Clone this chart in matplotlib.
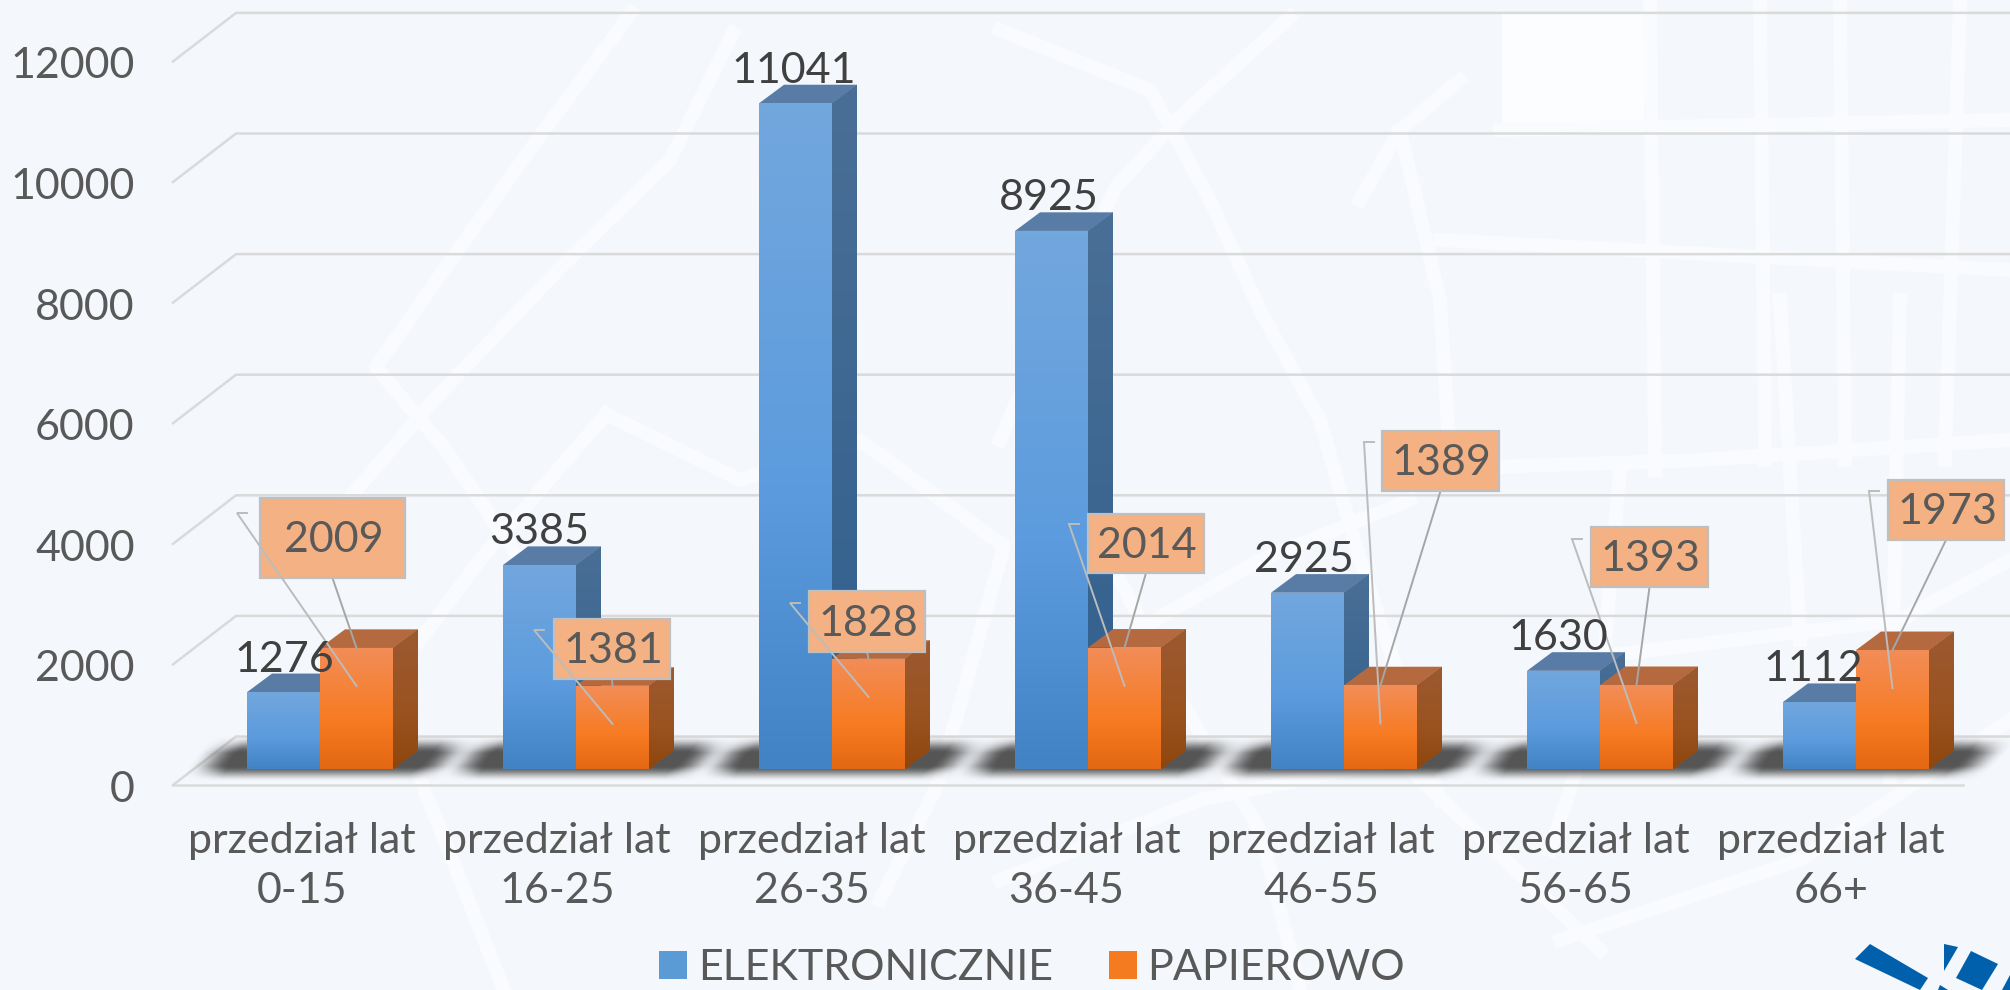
#grafico de barras con falso 3D: electronicznie vs papierowo
import numpy as np
import matplotlib
matplotlib.use('Agg')
import matplotlib.pyplot as plt
from matplotlib.colors import LinearSegmentedColormap
from matplotlib.patches import Patch, Polygon, Rectangle
from matplotlib.transforms import Affine2D, ScaledTranslation

plt.rcParams['font.family'] = ['Lato', 'DejaVu Sans']

#los datos
grupos = ['przedział lat\n0-15', 'przedział lat\n16-25', 'przedział lat\n26-35', 'przedział lat\n36-45',
          'przedział lat\n46-55', 'przedział lat\n56-65', 'przedział lat\n66+']
elektronicznie = [1276, 3385, 11041, 8925, 2925, 1630, 1112]
papierowo = [2009, 1381, 1828, 2014, 1389, 1393, 1973]
y_ticks = [0, 2000, 4000, 6000, 8000, 10000, 12000]

#cajas de las etiquetas naranjas, en pixeles (izq, arriba, ancho, alto)
cajas = [(260, 498, 145, 80), (554, 619, 116, 60), (809, 591, 116, 61), (1088, 514, 116, 59),
         (1382, 431, 117, 60), (1591, 527, 117, 60), (1888, 480, 116, 60)]
#inicio de la linea gris larga, en pixeles
ganchos = [(237, 513), (534, 630), (790, 603), (1069, 524), (1364, 442), (1572, 539), (1869, 491)]

#fondo tipo mapa, lineas blancas en pixeles
calles = [
    [(631, 13), (542, 133), (446, 267), (376, 367), (446, 450), (520, 560)],
    [(733, 33), (670, 160), (561, 267), (434, 400), (330, 520)],
    [(606, 414), (480, 560), (420, 640)],
    [(606, 414), (740, 480), (861, 441), (1004, 546), (938, 784), (880, 900)],
    [(422, 784), (504, 990)],
    [(1290, 17), (1187, 110), (1116, 187), (1060, 300), (1000, 440)],
    [(1000, 30), (1150, 90), (1210, 200), (1260, 310), (1320, 420), (1360, 560), (1440, 800)],
    [(1360, 200), (1400, 130), (1460, 80)],
    [(1400, 130), (1440, 300), (1450, 460)],
    [(1440, 240), (2010, 270)],
    [(1400, 470), (1700, 460), (2010, 440)],
    [(1120, 640), (1260, 560), (1410, 500)],
    [(1110, 560), (1180, 700), (1260, 830), (1300, 990)],
    [(1570, 660), (1900, 620), (2010, 560)],
    [(1550, 850), (1600, 700), (1620, 470)],
    [(1560, 940), (1800, 860), (1950, 760), (2010, 720)],
    [(1650, 0), (1655, 470)], [(1760, 0), (1765, 460)], [(1840, 0), (1845, 460)],
    [(1960, 0), (1945, 460)], [(1900, 300), (1890, 780)], [(1780, 300), (1800, 640)],
    [(1500, 130), (2010, 120)], [(1000, 880), (1200, 800), (1400, 760), (1600, 950)],
]
bloque_blanco = (1502, 14, 142, 120)
#logo abajo a la derecha
logo = [
    [(1870, 944), (1855, 959), (1920, 990), (1928, 978)],
    [(1944, 944), (1958, 947), (1944, 971)],
    [(1971, 951), (1998, 964), (1982, 990), (1956, 978)],
    [(1940, 985), (1948, 990), (1938, 990)],
    [(2010, 975), (2010, 990), (2002, 990)],
]

#colores
fondo = '#f4f7fc'
azul_frente = ['#72a7de', '#5b9bdd', '#4283c5']
azul_lado = ['#4a6f96', '#3a6590', '#2f5f8e']
azul_tapa = '#587ca6'
naranja_frente = ['#f28d58', '#f77b22', '#e36812']
naranja_lado = ['#9c5a30', '#9a5220', '#8f460d']
naranja_tapa = '#b5693f'

#escala: unos 120.6 pixeles son 2000 unidades
px_por_unidad = 0.0603
ancho = 0.285
dx = 25 / 256  #profundidad en x
dy = 18.6 / px_por_unidad  #profundidad en y
base = 15.9 / px_por_unidad  #las barras estan mas atras que el frente del piso
fondo_y = 48.5 / px_por_unidad  #pared de atras

fig = plt.figure(figsize=(20.1, 9.9), dpi=100, facecolor=fondo)
pix = Affine2D().scale(1, -1).translate(0, 990)

#fondo
x0, y0, w0, h0 = bloque_blanco
fig.add_artist(Rectangle((x0, y0), w0, h0, transform=pix, color='#fcfdff', lw=0, zorder=-3))
for c in calles:
    c = np.array(c)
    fig.add_artist(plt.Line2D(c[:, 0], c[:, 1], transform=pix, color='#f9fbfe', lw=10,
                              solid_joinstyle='round', zorder=-2))
for p in logo:
    fig.add_artist(Polygon(p, transform=pix, color='#0060ac', lw=0, zorder=-1))

ax = fig.add_axes([150 / 2010, (990 - 785) / 990, (2010 - 150) / 2010, 785 / 990])
ax.patch.set_visible(False)
for s in ax.spines.values():
    s.set_visible(False)


def cara(xs, ys, colores, z):
    #poligono con degradado vertical
    poly = Polygon(np.column_stack([xs, ys]), closed=True, facecolor=colores[1], lw=0, zorder=z)
    ax.add_patch(poly)
    cmap = LinearSegmentedColormap.from_list('c', [(0, colores[0]), (0.6, colores[1]), (1, colores[2])])
    img = ax.imshow(np.linspace(0, 1, 64).reshape(-1, 1), cmap=cmap, aspect='auto', zorder=z,
                    extent=(min(xs), max(xs), min(ys), max(ys)), interpolation='bilinear')
    img.set_clip_path(poly)


def sombra(c):
    #sombra difusa en el piso
    u = np.linspace(-0.62, 0.72, 340)
    v = np.linspace(-30, 60, 120)  #pixeles sobre la base
    U, V = np.meshgrid(u, v)
    t = np.clip((V + 6) / 33, 0, 1)
    izq = -0.46 + 0.09 * t
    der = 0.43 + 0.125 * t
    suave = 0.16
    a = np.clip((U - izq) / suave + 0.5, 0, 1) * np.clip((der - U) / suave + 0.5, 0, 1)
    a = a * np.clip((V + 13) / 16, 0, 1) * np.clip((34 - V) / 18, 0, 1)
    a = a * a * (3 - 2 * a)
    rgba = np.zeros(a.shape + (4,))
    rgba[..., :3] = 0.30
    rgba[..., 3] = a * 0.95
    ax.imshow(rgba, origin='lower', aspect='auto', zorder=2, clip_on=False, interpolation='bilinear',
              extent=(c + u[0], c + u[-1], base - 30 / px_por_unidad, base + 60 / px_por_unidad))


#rejilla
x_ini, x_fin = -0.328, 6.7
for v in y_ticks:
    ax.plot([-0.574, x_ini, x_fin], [v, v + fondo_y, v + fondo_y], color='#dadada', lw=1.8,
            clip_on=False, zorder=1, solid_joinstyle='miter')
ax.plot([-0.574, 6.418], [0, 0], color='#dadada', lw=1.8, clip_on=False, zorder=1)

#barras
pos = np.arange(len(grupos))
for i in pos:
    sombra(i)
    for j, (serie, frente, lado, tapa) in enumerate([(elektronicznie, azul_frente, azul_lado, azul_tapa),
                                                     (papierowo, naranja_frente, naranja_lado, naranja_tapa)]):
        z = 3 + j
        x1 = i + (j - 1) * ancho
        x2 = x1 + ancho
        alto = base + serie[i]
        ax.fill([x1, x1 + dx, x2 + dx, x2], [alto, alto + dy, alto + dy, alto], color=tapa, lw=0, zorder=z)
        cara([x2, x2 + dx, x2 + dx, x2], [base, base + dy, alto + dy, alto], lado, z)
        barra = ax.bar(x1, serie[i], ancho, bottom=base, align='edge', color=frente[1], lw=0, zorder=z)[0]
        cmap = LinearSegmentedColormap.from_list('f', [(0, frente[0]), (0.6, frente[1]), (1, frente[2])])
        img = ax.imshow(np.linspace(0, 1, 64).reshape(-1, 1), cmap=cmap, aspect='auto', zorder=z,
                        extent=(x1, x2, base, alto), interpolation='bilinear')
        img.set_clip_path(barra)

ax.set_xlim(-170 / 256, 1690 / 256)
ax.set_ylim(0, 785 / px_por_unidad)

#ejes
ax.set_xticks(pos * 0.9953 - 18 / 256)
ax.set_xticklabels(grupos, fontsize=31, color='#595959', linespacing=1.38)
ax.set_yticks(y_ticks)
ax.set_yticklabels([str(v) for v in y_ticks], fontsize=31, color='#595959')
ax.tick_params(axis='both', length=0)
ax.tick_params(axis='y', pad=11)
ax.tick_params(axis='x', pad=27)
#las etiquetas del eje y un poco mas abajo
baja = ScaledTranslation(0, -1.5 / 100, fig.dpi_scale_trans)
for lab in ax.get_yticklabels():
    lab.set_transform(lab.get_transform() + baja)

#etiquetas azules
for i, v in zip(pos, elektronicznie):
    ax.text(i * 0.9953 - ancho / 2 + 0.003, base + v + dy + 14 / px_por_unidad, str(v), fontsize=31,
            color='#404040', ha='center', va='center', zorder=8)

#etiquetas naranjas con sus lineas
inv = ax.transData.inverted()
for i, v in zip(pos, papierowo):
    l, t, w, h = cajas[i]
    ax.add_patch(Rectangle((l, t), w, h, transform=pix, facecolor='#f4b183', edgecolor='#bfbfbf', lw=1.6,
                           zorder=6, clip_on=False))
    cx, cy = inv.transform((l + w / 2 + 1, 990 - (t + h / 2 + 2)))
    ax.text(cx, cy, str(v), fontsize=31, color='#595959', ha='center', va='center', zorder=8)
    #linea corta de la caja a la tapa
    xb, yb = inv.transform((l + w / 2, 990 - (t + h)))
    tx = i + ancho / 2
    ty = base + v
    if yb > ty:
        ax.plot([xb, tx], [yb, ty], color='#a6a6a6', lw=1.4, zorder=5.5, clip_on=False)
    #linea larga con gancho
    gx, gy = ganchos[i]
    g1 = inv.transform((gx, 990 - gy))
    g0 = inv.transform((gx + 10, 990 - gy))
    ax.plot([g0[0], g1[0], tx], [g0[1], g1[1], ty - 38 / px_por_unidad], color='#bcbcbc', lw=1.4, zorder=7,
            clip_on=False, solid_joinstyle='miter')

fig.legend(handles=[Patch(color='#5b9bd5', lw=0), Patch(color='#f47b20', lw=0)],
           labels=['ELEKTRONICZNIE', 'PAPIEROWO'], loc='center', ncol=2, frameon=False, fontsize=31,
           labelcolor='#595959', handlelength=0.65, handleheight=0.65, handletextpad=0.25, columnspacing=1.3,
           bbox_to_anchor=(1032 / 2010, 1 - 968 / 990), borderpad=0, borderaxespad=0)

fig.savefig('out.png', dpi=100, facecolor=fondo)
